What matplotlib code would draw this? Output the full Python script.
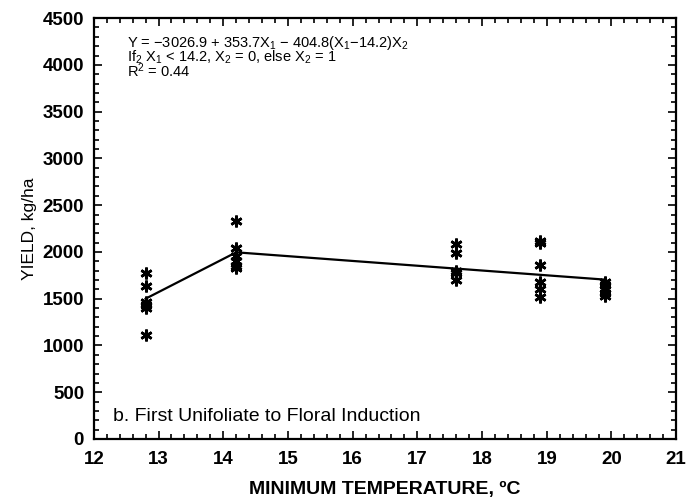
import matplotlib.pyplot as plt
from matplotlib.ticker import MultipleLocator

# data
temp_pts = [12.8]*6 + [14.2]*6 + [17.6]*5 + [18.9]*6 + [19.9]*5
yield_pts = [1780, 1640, 1470, 1430, 1400, 1110,
             2330, 2040, 1960, 1900, 1850, 1830,
             2090, 1990, 1800, 1770, 1700,
             2120, 2100, 1860, 1680, 1600, 1520,
             1680, 1650, 1600, 1560, 1530]

# fitted segmented line
fit_x = [12.8, 14.2, 19.9]
fit_y = [1500, 1996, 1704]

eq_lines = [r'Y = $-$3026.9 + 353.7X$_1$ $-$ 404.8(X$_1$$-$14.2)X$_2$',
            r'If$_2$ X$_1$ < 14.2, X$_2$ = 0, else X$_2$ = 1',
            r'R$^2$ = 0.44']
panel_label = 'b. First Unifoliate to Floral Induction'

plt.rcParams['font.family'] = ['Liberation Sans', 'DejaVu Sans']
plt.rcParams['mathtext.fontset'] = 'custom'
plt.rcParams['mathtext.rm'] = 'Liberation Sans'
plt.rcParams['mathtext.it'] = 'Liberation Sans'

fig = plt.figure(figsize=(6.9, 5.04), dpi=100)
ax = fig.add_axes([0.136, 0.129, 0.844, 0.835])

ax.plot(fit_x, fit_y, color='black', lw=1.6, zorder=2)
ax.plot(temp_pts, yield_pts, ls='none', marker=(6, 2, 0), ms=8.5,
        mec='black', mew=1.9, zorder=3)

ax.set_xlim(12, 21)
ax.set_ylim(0, 4500)
ax.xaxis.set_major_locator(MultipleLocator(1))
ax.xaxis.set_minor_locator(MultipleLocator(0.2))
ax.yaxis.set_major_locator(MultipleLocator(500))
ax.yaxis.set_minor_locator(MultipleLocator(100))
ax.tick_params(which='both', direction='in', top=True, right=True, width=1.2)
ax.tick_params(which='major', length=6, labelsize=13.5)
ax.tick_params(axis='x', which='major', pad=9)
ax.tick_params(axis='y', which='major', pad=7)
ax.tick_params(which='minor', length=3.5)
for lab in ax.get_xticklabels() + ax.get_yticklabels():
    lab.set_fontweight('bold')
for s in ax.spines.values():
    s.set_linewidth(1.6)

ax.set_xlabel('MINIMUM TEMPERATURE, ºC', fontsize=14, fontweight='bold', labelpad=9)
ax.set_ylabel('YIELD, kg/ha', fontsize=12.5, labelpad=4)

ax.text(12.51, 4330, '\n'.join(eq_lines), fontsize=10.5, va='top', ha='left',
        linespacing=0.72)

ax.text(12.29, 192, panel_label, fontsize=14, va='baseline', ha='left')

fig.savefig('out.png', dpi=100)
